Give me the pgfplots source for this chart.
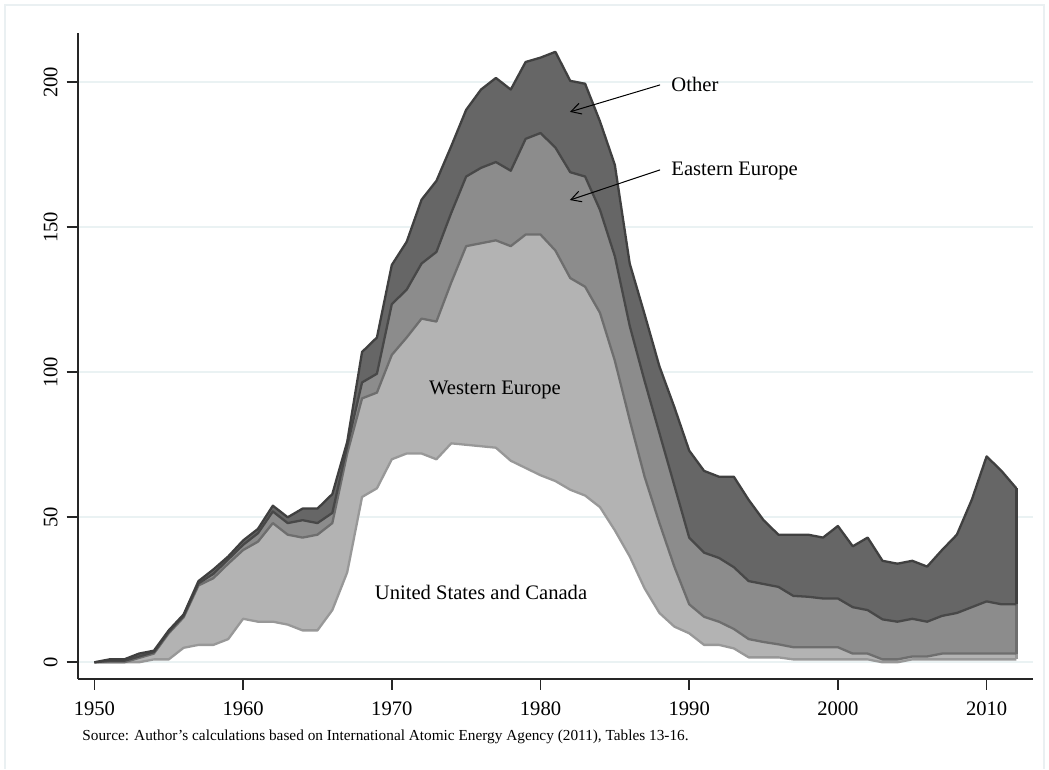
\documentclass[border=0pt]{standalone}
\usepackage{fontspec}
\setmainfont{Liberation Serif}
\usepackage{pgfplots}
\pgfplotsset{compat=1.18}
\usepgfplotslibrary{fillbetween}
\usetikzlibrary{arrows.meta}
\usepackage{pgfplotstable}
\definecolor{gridc}{RGB}{234,242,243}
\definecolor{cdark}{RGB}{102,102,102}
\definecolor{cmed}{RGB}{140,140,140}
\definecolor{clight}{RGB}{179,179,179}
\definecolor{ltot}{RGB}{64,64,64}
\definecolor{lee}{RGB}{72,72,72}
\definecolor{lwe}{RGB}{110,110,110}
\definecolor{lus}{RGB}{152,152,152}
\definecolor{framec}{RGB}{234,240,242}
% cumulative totals: US+Canada, +Western Europe, +Eastern Europe, +Other
\pgfplotstableread{
year us we ee tot
1950 0 0 0 0
1951 0 0 0.5 1
1952 0 0 0.5 1
1953 0 1.5 2 3
1954 1 3 3.5 4
1955 1 10 10.5 11
1956 5 15.5 16 16.5
1957 6 26.5 27.2 28
1958 6 29 30.5 32
1959 8 34 35.5 36.5
1960 15 38.7 40.5 42
1961 14 41.6 44.5 46
1962 14 48 52 54
1963 13 44 48 50
1964 11 43 49 53
1965 11 44 48 53
1966 18 48 51.5 58
1967 31 72 74.5 76
1968 57 91 96.5 107
1969 60 93 99.5 112
1970 70 106 123.5 137
1971 72 112 128.5 145
1972 72 118.5 137.5 159.5
1973 70 117.5 141.5 166
1974 75.5 131 155 178
1975 75 143.5 167.5 190.5
1976 74.5 144.5 170.5 197.5
1977 74 145.5 172.5 201.5
1978 69.5 143.5 169.5 197.5
1979 67 147.5 180.5 207
1980 64.5 147.5 182.5 208.5
1981 62.5 142 177.5 210.5
1982 59.5 132.5 169 200.5
1983 57.5 129.5 167.5 199.5
1984 53.5 120.5 156 186.5
1985 45.5 104 140 171.5
1986 36.5 83.5 116 137.5
1987 25.5 64 97 120
1988 17 48 79 102
1989 12.3 33 61 88
1990 10 20 43 73
1991 6 15.7 37.8 66
1992 6 14 36 64
1993 4.8 11.5 32.8 64
1994 1.7 8 28 56
1995 1.7 7 27 49
1996 1.7 6.2 26 44
1997 1 5.2 22.9 44
1998 1 5.2 22.6 44
1999 1 5.2 22 43
2000 1 5.2 22 47
2001 1 3 19 40
2002 1 3 18 43
2003 0 1 14.8 35
2004 0 1 14 34
2005 1 2 15 35
2006 1 2 14 33
2007 1 3 16 38.7
2008 1 3 17 44
2009 1 3 19 56
2010 1 3 21 71
2011 1 3 20 66
2012 1 3 20 60
}\data
\begin{document}
\begin{tikzpicture}
\path (0,0) rectangle (524.5pt,384.5pt);
\draw[framec, line width=0.8pt] (2.5pt,0pt) -- (2.5pt,382pt) -- (522pt,382pt) -- (522pt,0pt);
\begin{axis}[
  at={(38.85pt,45pt)}, anchor=south west,
  scale only axis, width=477.65pt, height=323pt,
  xmin=1948.877, xmax=2013.12, ymin=-5.76, ymax=217,
  axis lines*=left,
  axis line style={line width=0.85pt, black!85},
  xtick={1950,1960,...,2010}, ytick={0,50,...,200},
  tick align=outside, major tick length=5.5pt,
  tick style={line width=0.85pt, black!85},
  ymajorgrids, grid style={line width=1pt, gridc},
  /pgf/number format/1000 sep={},
  /pgf/number format/assume math mode=true,
  tick label style={font=\fontsize{10.3}{12}\selectfont},
  xticklabel style={yshift=-2.5pt},
  yticklabel style={xshift=-1pt, rotate=90, anchor=south},
]
\addplot[draw=none, name path=us] table[x=year,y=us]{\data};
\addplot[draw=none, name path=we] table[x=year,y=we]{\data};
\addplot[draw=none, name path=ee] table[x=year,y=ee]{\data};
\addplot[draw=none, name path=tot] table[x=year,y=tot]{\data};
\addplot[fill=cdark, draw=none] fill between[of=ee and tot];
\addplot[fill=cmed, draw=none] fill between[of=we and ee];
\addplot[fill=clight, draw=none] fill between[of=us and we];
% outlines
\addplot[lus, line width=1.15pt, line join=round] table[x=year,y=us]{\data};
\addplot[lus, line width=1.15pt] coordinates {(2012,1) (2012,3)};
\addplot[lwe, line width=1.15pt, line join=round] table[x=year,y=we]{\data};
\addplot[lwe, line width=1.15pt] coordinates {(2012,3) (2012,20)};
\addplot[lee, line width=1.15pt, line join=round] table[x=year,y=ee]{\data};
\addplot[ltot, line width=1.15pt] coordinates {(2012,20) (2012,60)};
\addplot[ltot, line width=1.15pt, line join=round] table[x=year,y=tot]{\data};
% annotations
\draw[line width=0.5pt, -{Straight Barb[length=5pt,width=5.5pt]}] (axis cs:1988.04,199.1) -- (axis cs:1981.98,189.8);
\draw[line width=0.5pt, -{Straight Barb[length=5pt,width=5.5pt]}] (axis cs:1988.04,169.8) -- (axis cs:1981.98,159.4);
\node[anchor=west, font=\fontsize{10.3}{12}\selectfont, inner sep=0pt] at (axis cs:1988.78,199.1) {Other};
\node[anchor=west, font=\fontsize{10.3}{12}\selectfont, inner sep=0pt] at (axis cs:1988.78,169.4) {Eastern Europe};
\node[font=\fontsize{10.3}{12}\selectfont] at (axis cs:1976.94,93.9) {Western Europe};
\node[font=\fontsize{10.3}{12}\selectfont] at (axis cs:1976.0,24) {United States and Canada};
\end{axis}
\node[anchor=west, inner sep=0pt, font=\fontsize{7.65}{9}\selectfont] at (41pt,16pt) {Source: Author's calculations based on International Atomic Energy Agency (2011), Tables 13-16.};
\end{tikzpicture}
\end{document}
